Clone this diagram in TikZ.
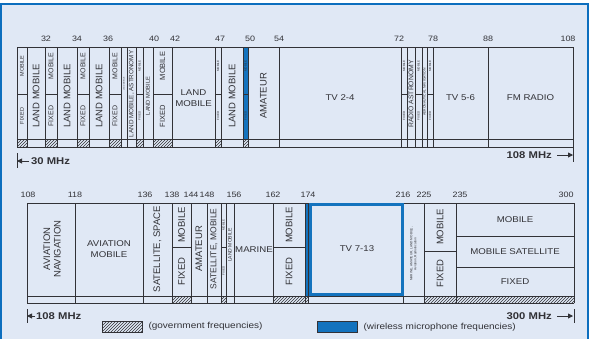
\documentclass[tikz,border=0pt]{standalone}
\usepackage{fontspec}
\setmainfont{Liberation Sans}
\newfontfamily\widesans[FakeStretch=1.15]{Liberation Sans}
\usetikzlibrary{positioning, arrows.meta, patterns}
\definecolor{panelBg}{RGB}{224, 232, 245}
\definecolor{panelEdge}{RGB}{12, 110, 190}
\definecolor{chartLine}{RGB}{50, 50, 55}
\definecolor{micBlue}{RGB}{20, 115, 190}

\begin{document}
\begin{tikzpicture}[
    x=1pt, y=-1pt,
    chartrule/.style={draw=chartLine, line width=0.6pt},
    freq/.style={
        font=\widesans\fontsize{7.8}{8}\selectfont,
        text=chartLine,
        inner sep=0pt
    },
    flat/.style={
        font=\widesans\fontsize{8.4}{11.5}\selectfont,
        text=chartLine,
        align=center,
        inner sep=0pt
    },
    upright/.style={
        font=\fontsize{9.5}{10.5}\selectfont,
        text=chartLine,
        align=center,
        inner sep=0pt,
        rotate=90
    },
    narrow/.style={upright, font=\fontsize{6.8}{7.5}\selectfont},
    minute/.style={upright, font=\fontsize{3}{3.6}\selectfont},
    govhatch/.style={pattern=north east lines, pattern color=chartLine},
    micfill/.style={fill=micBlue},
    rangetext/.style={
        font=\widesans\bfseries\fontsize{9.8}{10}\selectfont,
        text=chartLine,
        inner sep=0pt
    },
    rangearrow/.style={
        draw=chartLine,
        line width=0.9pt,
        -{Triangle[length=5pt, width=5pt]}
    },
    rangebar/.style={draw=chartLine, line width=0.8pt},
    keybox/.style={
        draw=chartLine,
        line width=0.6pt,
        minimum width=40pt,
        minimum height=11pt,
        inner sep=0pt
    },
    keytext/.style={
        font=\widesans\fontsize{8.7}{9}\selectfont,
        text=chartLine,
        inner sep=0pt
    }
]

\useasboundingbox (0,0) rectangle (594,338);

% ================= PANEL =================
\fill[panelBg] (1,4) rectangle (588,340);
\draw[panelEdge, line width=2.4pt] (1,340) -- (1,4) -- (588,4) -- (588,340);

% ================= 30 - 108 MHz =================
\foreach \a/\b in {17/27,45/57,77/89,109/121,136/143,153/172,215/221,243/248}
    \fill[govhatch] (\a,139) rectangle (\b,147);
\fill[micfill] (243,47) rectangle (248,139);

\foreach \x in {17,27,45,57,77,89,109,121,127,136,143,153,172,215,221,243,248,279,401,407,415,422,427,433,488,573}
    \draw[chartrule] (\x,47) -- (\x,147);
\foreach \y in {47,139,147}
    \draw[chartrule] (17,\y) -- (573,\y);
\foreach \a/\b in {17/27,45/57,77/89,109/121,136/143,153/172,215/221,243/248,401/407,415/422,427/433}
    \draw[chartrule] (\a,94) -- (\b,94);

\foreach \x/\f in {46/32,77/34,108/36,154/40,175/42,220/47,250/50,279/54,399/72,433/78,488/88,568/108}
    \node[freq] (top\f) at (\x,39) {\f};

\foreach \a/\b/\s in {17/27/5.5,45/57/7,77/89/7,109/121/7,153/172/7.5} {
    \node[upright, font=\fontsize{\s}{\s}\selectfont] (mob\a) at ({(\a+\b)/2},66) {MOBILE};
    \node[upright, font=\fontsize{\s}{\s}\selectfont] (fix\a) at ({(\a+\b)/2},116) {FIXED};
}
\foreach \a/\b in {136/143,215/221,243/248,401/407,415/422,427/433} {
    \node[minute] (mob\a) at ({(\a+\b)/2},66) {MOBILE};
    \node[minute] (fix\a) at ({(\a+\b)/2},116) {FIXED};
}

\node[upright] (land27) at (36,96) {LAND MOBILE};
\node[upright] (land57) at (67,96) {LAND MOBILE};
\node[upright] (land89) at (99,96) {LAND MOBILE};
\node[minute, font=\fontsize{2}{2}\selectfont] (land121) at (124,84) {LAND MOBILE};
\node[narrow, font=\fontsize{6.3}{7}\selectfont] (astro127) at (131.5,94) {LAND MOBILE, ASTRONOMY};
\node[narrow, font=\fontsize{5.7}{6}\selectfont] (land143) at (148,96) {LAND MOBILE};
\node[flat] (land172) at (193.5,98) {LAND\\MOBILE};
\node[upright] (land221) at (232,96) {LAND MOBILE};
\node[upright] (amateur248) at (263.5,96) {AMATEUR};
\node[flat] (tv24) at (340,98) {TV 2-4};
\node[narrow] (radioastro) at (411,94) {RADIO ASTRONOMY};
\node[minute, font=\fontsize{3.4}{4}\selectfont] (aeronav) at (424.5,92) {AERONAUTICAL NAVIGATION};
\node[flat] (tv56) at (460.5,98) {TV 5-6};
\node[flat] (fmradio) at (530.5,98) {FM RADIO};

\node[rangetext, anchor=west] (lo30) at (31,161) {30 MHz};
\coordinate (lo30end) at (17,161);
\draw[rangearrow] ([xshift=-2pt]lo30.west) -- (lo30end);
\draw[rangebar] (17,153) -- (17,168);

\node[rangetext, anchor=east] (hi108) at (552,155) {108 MHz};
\coordinate (hi108end) at (573,155);
\draw[rangearrow] ([xshift=5pt]hi108.east) -- (hi108end);
\draw[rangebar] (573,147) -- (573,162);

% ================= 108 - 300 MHz =================
\foreach \a/\b in {172/191,221/226,273/308,424/574}
    \fill[govhatch] (\a,296) rectangle (\b,303);
\fill[micfill] (305,203) rectangle (308,296);

\foreach \x in {27,75,143,172,191,207,221,226,234,273,305,308,403,424,456,574}
    \draw[chartrule] (\x,203) -- (\x,303);
\foreach \y in {203,296,303}
    \draw[chartrule] (27,\y) -- (574,\y);
\foreach \a/\b/\m in {172/191/247,221/226/247,273/305/247,424/456/251,456/574/236,456/574/267}
    \draw[chartrule] (\a,\m) -- (\b,\m);
\draw[micBlue, line width=3pt] (310.5,204.5) rectangle (402,294.5);

\foreach \x/\f in {28/108,75/118,145/136,172/138,191/144,207/148,234/156,273/162,308/174,403/216,424/225,460/235,566/300}
    \node[freq] (bot\f) at (\x,195) {\f};

\node[upright] (avnav) at (52,249) {AVIATION\\NAVIGATION};
\node[flat] (avmob) at (109,249) {AVIATION\\MOBILE};
\node[upright] (satspace) at (157.5,249) {SATELLITE, SPACE};
\node[upright] (amateur191) at (199,249) {AMATEUR};
\node[upright, font=\fontsize{8.5}{9}\selectfont] (satmob) at (214,249) {SATELLITE, MOBILE};
\node[narrow, font=\fontsize{5}{5}\selectfont] (land226) at (230,245) {LAND MOBILE};
\node[flat] (marine) at (254,250) {MARINE};
\node[flat] (tv713) at (357,249) {TV 7-13};
\node[minute, font=\fontsize{3.2}{3.9}\selectfont] (mixed) at (413.5,254) {MARINE, AMATEUR, LAND MOBILE,\\Aviation, Radiolocation};

\foreach \a/\b/\m in {172/191/247,273/305/247,424/456/251} {
    \node[upright] (mob\a) at ({(\a+\b)/2},{(203+\m)/2}) {MOBILE};
    \node[upright] (fix\a) at ({(\a+\b)/2},{(\m+296)/2}) {FIXED};
}
\node[minute] (mob221) at (223.5,225) {MOBILE};
\node[minute] (fix221) at (223.5,271) {FIXED};

\node[flat] (mob456) at (515,219.5) {MOBILE};
\node[flat] (mobsat) at (515,251.5) {MOBILE SATELLITE};
\node[flat] (fix456) at (515,281.5) {FIXED};

\node[rangetext, anchor=west] (lo108) at (36,316) {108 MHz};
\coordinate (lo108end) at (27,316);
\draw[rangearrow] ([xshift=-1pt]lo108.west) -- (lo108end);
\draw[rangebar] (27,309) -- (27,323);

\node[rangetext, anchor=east] (hi300) at (552,316) {300 MHz};
\coordinate (hi300end) at (573,316);
\draw[rangearrow] ([xshift=5pt]hi300.east) -- (hi300end);
\draw[rangebar] (574,309) -- (574,323);

% ================= LEGEND =================
\node[keybox, govhatch] (govkey) at (122,326.5) {};
\node[keytext, right=6pt of govkey] (govtext) {(government frequencies)};
\node[keybox, micfill] (mickey) at (337,327) {};
\node[keytext, right=6pt of mickey] (mictext) {(wireless microphone frequencies)};

\end{tikzpicture}
\end{document}
